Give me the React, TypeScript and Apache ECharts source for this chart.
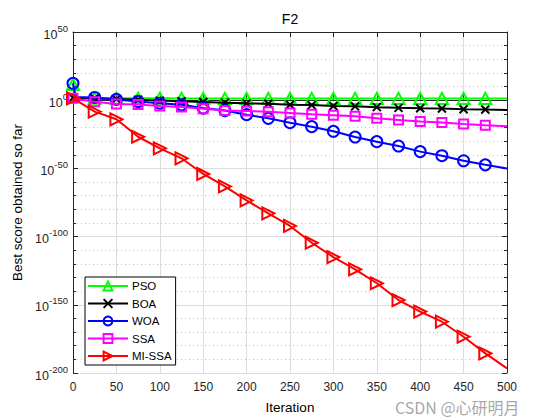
import React, { useEffect, useRef } from "react";
import * as echarts from "echarts";

// Iterations at which values were read (markers every 25 up to 475)
const ITERATIONS = [0, 3, 25, 50, 75, 100, 125, 150, 175, 200, 225, 250, 275, 300, 325, 350, 375, 400, 425, 450, 475, 500];

// log10 of best score obtained so far
const PSO_LOG = [11.5, 1.6, 1.4, 1.4, 1.4, 1.4, 1.3, 1.3, 1.3, 1.3, 1.3, 1.3, 1.3, 1.3, 1.3, 1.3, 1.3, 1.3, 1.3, 1.3, 1.3, 1.3];
const BOA_LOG = [1.8, 1.5, 1.2, 0.8, 0.3, -0.3, -0.8, -1.3, -1.8, -2.3, -2.6, -3.3, -3.6, -4.2, -4.5, -5.1, -5.6, -5.9, -6.1, -6.6, -6.8, -7.2];
const WOA_LOG = [12.4, 2.4, 2.0, 0.6, -1.0, -2.2, -3.4, -5.8, -7.6, -10.6, -13.3, -16.5, -19.4, -22.8, -27.0, -30.4, -33.6, -37.7, -40.7, -44.4, -47.4, -50.0];
const SSA_LOG = [1.5, 0.8, -1.1, -2.7, -3.2, -4.3, -5.0, -6.2, -7.6, -8.0, -8.4, -9.3, -10.3, -11.0, -11.8, -13.3, -14.5, -15.7, -16.4, -17.4, -18.3, -19.1];
const MISSA_LOG = [1.4, 0.2, -8.4, -14.0, -26.8, -35.3, -42.6, -54.1, -63.2, -73.5, -82.9, -92.2, -104.5, -115.0, -124.0, -134.2, -146.5, -155.0, -162.4, -173.4, -185.6, -196.6];

const SERIES_NAMES = ["PSO", "BOA", "WOA", "SSA", "MI-SSA"];
const X_TICKS = { min: 0, max: 500, step: 50 };
const Y_TICKS = { min: -200, max: 50, step: 50 };

const FONT = "'Liberation Sans', Arial, Helvetica, sans-serif";

export default function App() {
  const ref = useRef<HTMLDivElement>(null);

  useEffect(() => {
    if (!ref.current) return;
    const chart = echarts.init(ref.current, undefined, { renderer: "svg" });

    const xPath = "path://M0,0L10,10M10,0L0,10";
    const styles = [
      { color: "#00ff00", symbol: "triangle", size: [12, 11], rotate: 0 },
      { color: "#000000", symbol: xPath, size: [8, 8], rotate: 0 },
      { color: "#0000ff", symbol: "circle", size: 11, rotate: 0 },
      { color: "#ff00ff", symbol: "rect", size: 9, rotate: 0 },
      { color: "#ff0000", symbol: "triangle", size: [12, 12], rotate: -90 },
    ];
    const values = [PSO_LOG, BOA_LOG, WOA_LOG, SSA_LOG, MISSA_LOG];

    const series = SERIES_NAMES.map((name, k) => {
      const st = styles[k];
      return {
        type: "line",
        name,
        xAxisIndex: 0,
        yAxisIndex: 0,
        data: ITERATIONS.map((it, i) => ({
          value: [it, values[k][i]],
          symbol: it % 25 === 0 && it < 500 ? st.symbol : "none",
        })),
        symbol: st.symbol,
        symbolSize: st.size,
        symbolRotate: st.rotate,
        showSymbol: true,
        lineStyle: { color: st.color, width: 2 },
        itemStyle: { color: "rgba(0,0,0,0)", borderColor: st.color, borderWidth: 2 },
        emphasis: { disabled: true },
        z: 2 + k,
      };
    });

    const tickColor = "#262626";
    chart.setOption({
      animation: false,
      backgroundColor: "#ffffff",
      textStyle: { fontFamily: FONT },
      title: {
        text: "F2",
        left: 290,
        top: 12,
        padding: 0,
        textAlign: "center",
        textStyle: { fontFamily: FONT, fontSize: 14, fontWeight: "normal", color: "#000" },
      },
      grid: { left: 73, right: 53, top: 32, bottom: 47, show: false },
      legend: {
        orient: "vertical",
        left: 85,
        top: 277,
        padding: [3, 4, 3, 2],
        itemWidth: 40,
        itemHeight: 11,
        itemGap: 5.5,
        borderColor: "#000",
        borderWidth: 1,
        backgroundColor: "#fff",
        textStyle: { fontFamily: FONT, fontSize: 11.5, color: "#000", padding: [0, 0, 0, -1] },
        data: SERIES_NAMES,
      },
      xAxis: [
        {
          type: "value",
          min: X_TICKS.min,
          max: X_TICKS.max,
          interval: X_TICKS.step,
          name: "Iteration",
          nameLocation: "middle",
          nameGap: 27,
          nameTextStyle: { fontFamily: FONT, fontSize: 13.5, color: "#000" },
          axisLine: { show: true, lineStyle: { color: tickColor, width: 1 } },
          axisTick: { show: true, inside: true, length: 5, lineStyle: { color: tickColor } },
          axisLabel: { fontFamily: FONT, fontSize: 12, color: tickColor, margin: 8 },
          splitLine: { show: true, lineStyle: { color: "#dcdcdc", width: 1 } },
        },
        {
          type: "value",
          position: "top",
          min: X_TICKS.min,
          max: X_TICKS.max,
          interval: X_TICKS.step,
          axisLine: { show: true, onZero: false, lineStyle: { color: tickColor, width: 1 } },
          axisTick: { show: true, inside: true, length: 5, lineStyle: { color: tickColor } },
          axisLabel: { show: false },
          splitLine: { show: false },
        },
      ],
      yAxis: [
        {
          type: "value",
          min: Y_TICKS.min,
          max: Y_TICKS.max,
          interval: Y_TICKS.step,
          name: "Best score obtained so far",
          nameLocation: "middle",
          nameGap: 47,
          nameTextStyle: { fontFamily: FONT, fontSize: 13.5, color: "#000" },
          axisLine: { show: true, onZero: false, lineStyle: { color: tickColor, width: 1 } },
          axisTick: { show: true, inside: true, length: 5, lineStyle: { color: tickColor } },
          minorTick: { show: true, splitNumber: 5, length: 3, lineStyle: { color: tickColor } },
          axisLabel: {
            margin: 5,
            formatter: (v: number) => `{b|10}{s|${v}}`,
            rich: {
              b: { fontFamily: FONT, fontSize: 12.5, color: tickColor, lineHeight: 18, verticalAlign: "bottom" },
              s: { fontFamily: FONT, fontSize: 9.5, color: tickColor, lineHeight: 11, verticalAlign: "top" },
            },
          },
          splitLine: { show: true, lineStyle: { color: "#dcdcdc", width: 1 } },
          minorSplitLine: { show: true, lineStyle: { color: "#c4c4c4", width: 1, type: [1, 3] } },
        },
        {
          type: "value",
          position: "right",
          min: Y_TICKS.min,
          max: Y_TICKS.max,
          interval: Y_TICKS.step,
          axisLine: { show: true, onZero: false, lineStyle: { color: tickColor, width: 1 } },
          axisTick: { show: true, inside: true, length: 5, lineStyle: { color: tickColor } },
          minorTick: { show: true, splitNumber: 5, length: 3, lineStyle: { color: tickColor } },
          axisLabel: { show: false },
          splitLine: { show: false },
        },
      ],
      graphic: [
        {
          type: "text",
          left: 395,
          top: 399,
          silent: true,
          style: {
            text: "CSDN @心研明月",
            fontFamily: "'Noto Sans CJK SC', " + FONT,
            fontSize: 16,
            fill: "rgba(150,150,150,0.85)",
          },
        },
      ],
      series,
    });

    return () => chart.dispose();
  }, []);

  return (
    <div
      ref={ref}
      style={{ position: "fixed", left: 0, top: 0, width: 560, height: 420, background: "#fff" }}
    />
  );
}
